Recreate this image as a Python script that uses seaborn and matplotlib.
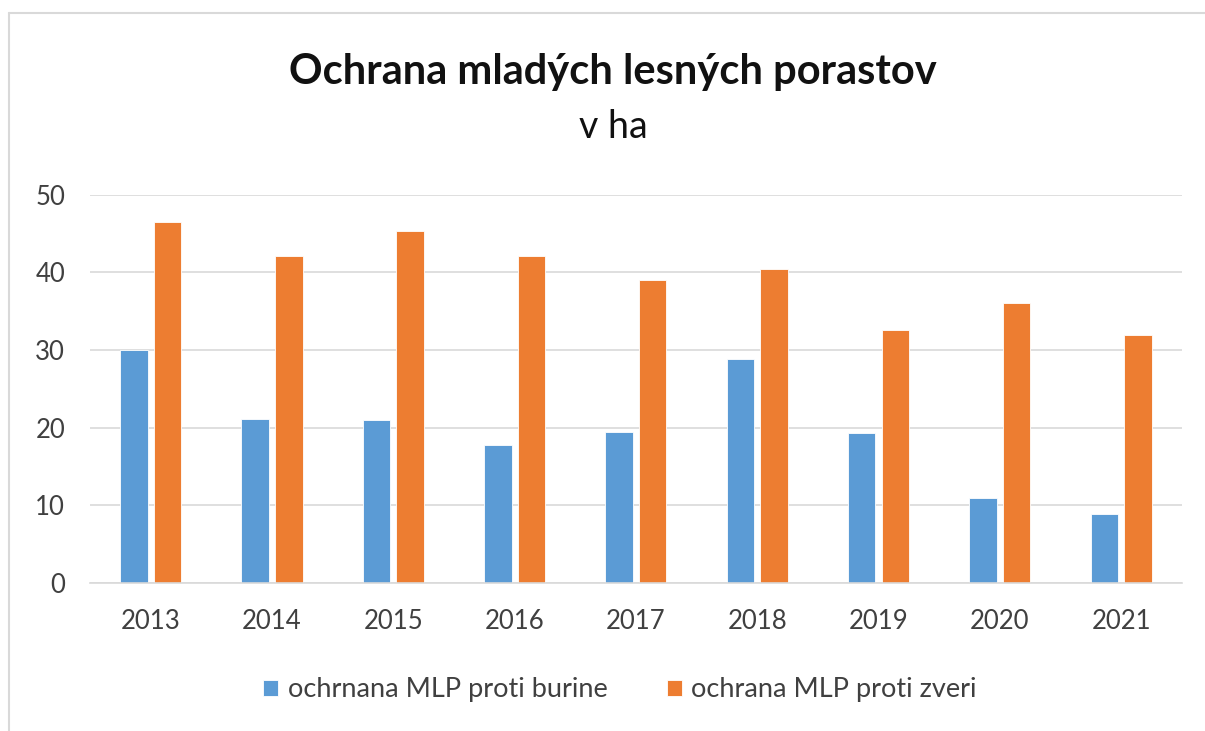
import pandas as pd
import matplotlib
matplotlib.use("Agg")
import matplotlib.pyplot as plt
from matplotlib.lines import Line2D
import seaborn as sns

# data (hectares)
roky = ["2013", "2014", "2015", "2016", "2017", "2018", "2019", "2020", "2021"]
burina = [30.0, 21.1, 21.0, 17.8, 19.5, 28.8, 19.3, 11.0, 8.9]
zver = [46.5, 42.1, 45.4, 42.1, 39.0, 40.4, 32.6, 36.1, 32.0]
serie = ["ochrnana MLP proti burine", "ochrana MLP proti zveri"]
farby = ["#5B9BD5", "#ED7D31"]

df = pd.DataFrame({
    "rok": roky * 2,
    "ha": burina + zver,
    "typ": [serie[0]] * len(roky) + [serie[1]] * len(roky),
})

sns.set_style("white")
plt.rcParams["font.family"] = ["Lato", "DejaVu Sans"]

fig = plt.figure(figsize=(12.05, 7.31), dpi=100)
ax = fig.add_axes([0.0747, 0.2025, 0.906, 0.531])

sns.barplot(data=df, x="rok", y="ha", hue="typ", palette=farby,
            width=0.554, gap=0.18, edgecolor="white", linewidth=0.6,
            saturation=1, ax=ax)

ax.set_ylim(0, 50)
ax.set_xlim(-0.5, len(roky) - 0.5)
ax.set_yticks(range(0, 51, 10))
ax.yaxis.grid(True, color="#D9D9D9", linewidth=1.2)
ax.set_axisbelow(True)
for s in ["top", "right", "left"]:
    ax.spines[s].set_visible(False)
ax.spines["bottom"].set_color("#D9D9D9")
ax.spines["bottom"].set_linewidth(1.2)
ax.tick_params(axis="both", length=0, labelsize=18.5, labelcolor="#404040")
ax.tick_params(axis="y", pad=18)
ax.tick_params(axis="x", pad=19)
ax.set_xlabel("")
ax.set_ylabel("")

sns.move_legend(ax, "center", bbox_to_anchor=(620 / 1205, 1 - 690 / 731),
                bbox_transform=fig.transFigure, ncol=2, frameon=False,
                title=None, fontsize=19.5, handlelength=0.55, handleheight=0.55,
                handletextpad=0.35, columnspacing=2.2)
for t in ax.get_legend().get_texts():
    t.set_color("#404040")

fig.text(0.509, 1 - 72 / 731, "Ochrana mladých lesných porastov",
         ha="center", va="center", fontsize=30, fontweight="bold", color="#111111")
fig.text(0.509, 1 - 127 / 731, "v ha", ha="center", va="center",
         fontsize=27, color="#111111")

# light frame of the chart area (cropped at right and bottom)
y_top = 1 - 13 / 731
x_left = 9 / 1205
fig.add_artist(Line2D([x_left, 1], [y_top, y_top], transform=fig.transFigure,
                      color="#D9D9D9", linewidth=1.5))
fig.add_artist(Line2D([x_left, x_left], [0, y_top], transform=fig.transFigure,
                      color="#D9D9D9", linewidth=1.5))

fig.savefig("out.png", dpi=100)
